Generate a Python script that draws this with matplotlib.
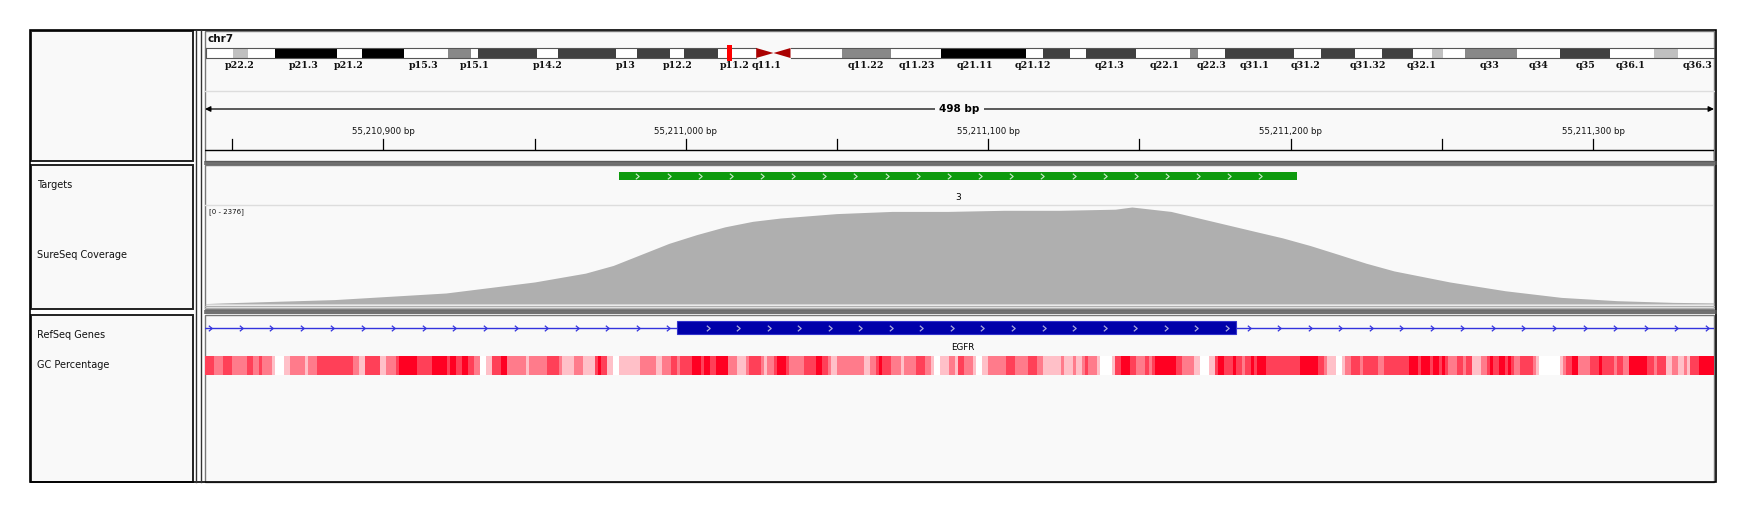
import numpy as np
import matplotlib
matplotlib.use("Agg")
import matplotlib.pyplot as plt
from matplotlib.path import Path

W, H = 1746, 516

# ---------------- data ----------------
bp_start, bp_end = 55210841, 55211340
ruler_ticks = [55210900, 55211000, 55211100, 55211200, 55211300]
ruler_minor = [55210850, 55210950, 55211050, 55211150, 55211250]
span_label = "498 bp"

target_start, target_end = 55210978, 55211202
target_label = "3"
exon_start, exon_end = 55210997, 55211182
gene_name = "EGFR"

cov_max = 2376
cov_offset = [0, 5.9, 42.8, 79.7, 109, 125.8, 135, 144.2, 153.4, 162.6, 171.9, 181.1, 190.3, 208.8,
              227.2, 245.7, 264.1, 282.5, 301, 306.5, 319.4, 328.6, 337.8, 347, 356.3, 365.5,
              374.8, 383.9, 393.2, 402.4, 411.6, 430, 448.5, 467, 485.4, 499]
cov_value = [10, 27, 108, 270, 540, 756, 945, 1215, 1485, 1700, 1890, 2025, 2106, 2214,
             2268, 2268, 2295, 2295, 2322, 2376, 2268, 2106, 1944, 1782, 1620, 1431,
             1215, 1000, 810, 675, 540, 324, 162, 81, 40, 27]

gc_levels = [3,2,3,2,3,2,3,2,1,0,1,2,1,2,3,2,1,3,1,2,3,4,3,4,3,4,3,4,3,2,0,1,3,4,2,1,2,3,2,1,2,1,3,4,3,1,0,1,2,1,2,3,2,3,4,3,4,3,
             4,2,1,2,3,2,1,2,3,4,3,2,3,4,3,2,1,2,1,2,3,4,3,2,1,2,3,2,1,0,1,2,1,3,2,1,0,1,2,3,2,3,2,1,2,1,2,1,2,3,2,1,0,1,3,4,3,2,3,2,3,4,3,2,1,0,1,3,4,3,
             3,4,3,2,3,4,3,4,3,4,3,2,1,0,1,2,3,2,3,2,3,4,3,4,3,4,3,4,3,2,3,2,3,1,2,3,4,3,4,3,4,3,2,3,2,1,0,1,2,3,4,2,3,4,3,2,3,2,4,3,2,3,1,2,1,2,1,3,4]
gc_lengths = [3,3,3,5,2,2,1,3,1,3,2,5,1,3,12,2,2,5,2,3,1,6,5,5,1,2,2,2,2,2,2,2,3,2,6,1,6,4,1,4,3,4,1,1,2,2,2,7,5,2,3,2,1,4,3,1,2,2,
              4,3,3,1,4,1,1,2,1,3,1,5,4,2,2,1,2,9,2,2,1,1,3,3,1,4,3,2,1,2,3,2,1,2,3,1,2,2,6,3,4,3,2,6,1,3,1,2,1,1,3,1,4,1,2,3,2,3,1,1,1,7,2,4,2,3,2,1,2,2,
              1,1,2,1,2,1,1,3,11,6,2,1,3,2,1,2,3,1,5,2,8,3,1,3,1,2,1,1,1,3,2,1,2,3,2,1,1,2,2,1,1,1,2,4,1,1,7,1,1,2,2,4,3,1,4,1,2,2,6,2,1,3,2,2,2,1,1,3,5]
gc_colors = ['#FFFFFF', '#FFC0C8', '#FF7B8B', '#FF4058', '#FF0022']

# cytobands: (edge px, shade)
band_edges = [205.7, 232.5, 248.1, 274.9, 337.4, 362, 403.5, 447.7, 471.3, 478, 537.4, 558.4,
              616.4, 636.5, 670, 684.3, 718.2, 756.2]
band_shades = ['w', 'lg', 'w', 'k', 'w', 'k', 'w', 'g', 'w', 'd', 'w', 'd', 'w', 'd', 'w', 'd', 'w']
qband_edges = [790.5, 841.9, 890.8, 940.5, 1025.9, 1042.7, 1070, 1085.8, 1136, 1190, 1197.6, 1225.3,
               1293.5, 1320.8, 1355.2, 1381.6, 1413.2, 1432.2, 1443.2, 1465.2, 1517.1, 1560, 1610,
               1654, 1678, 1714]
qband_shades = ['w', 'g', 'w', 'k', 'w', 'd', 'w', 'd', 'w', 'g', 'w', 'd', 'w', 'd', 'w', 'd', 'w',
                'lg', 'w', 'g', 'w', 'd', 'w', 'lg', 'w']
band_labels = ["p22.2", "p21.3", "p21.2", "p15.3", "p15.1", "p14.2", "p13", "p12.2", "p11.2", "q11.1",
               "q11.22", "q11.23", "q21.11", "q21.12", "q21.3", "q22.1", "q22.3", "q31.1", "q31.2",
               "q31.32", "q32.1", "q33", "q34", "q35", "q36.1", "q36.3"]
band_label_x = [215, 273, 313, 380, 426, 492, 562, 608, 660, 688, 777, 823, 875, 927, 996, 1045,
                1088, 1126, 1172, 1228, 1276, 1337, 1381, 1423, 1464, 1524]
shade_col = {'w': '#FFFFFF', 'lg': '#C0C0C0', 'g': '#888888', 'd': '#404040', 'k': '#000000'}

track_names = ["Targets", "SureSeq Coverage", "RefSeq Genes", "GC Percentage"]
track_name_y = [185, 255, 335, 365]

# ---------------- figure ----------------
fig = plt.figure(figsize=(W / 100, H / 100), dpi=100)
fig.patch.set_facecolor('white')
bg = fig.add_axes([0, 0, 1, 1])
bg.set_xlim(0, W); bg.set_ylim(H, 0); bg.axis('off')

def rect(ax, x0, y0, x1, y1, fc='none', ec='black', lw=1.0, z=1):
    ax.add_patch(plt.Rectangle((x0, y0), x1 - x0, y1 - y0, fc=fc, ec=ec, lw=lw, zorder=z))

PANEL = '#F9F9F9'
for (y0, y1) in [(31, 161), (165, 309), (315, 482)]:
    rect(bg, 31, y0, 193, y1, fc=PANEL, ec='#222222', lw=1.4)
    rect(bg, 205, y0, 1714, y1, fc=PANEL, ec='#777777', lw=1.0)
rect(bg, 30, 30, 1716, 482, fc='none', ec='black', lw=1.2, z=5)
for x in (196, 201):
    bg.plot([x, x], [30, 482], color='#333333', lw=1.0, zorder=6)
for y in (162, 164, 311, 313):
    bg.plot([205, 1716], [y, y], color='#555555', lw=1.2, zorder=6)

for name, y in zip(track_names, track_name_y):
    bg.text(37, y, name, fontsize=7, va='center', ha='left', color='#111111')

# ideogram
bg.text(208, 39, "chr7", fontsize=7.5, va='center', ha='left', fontweight='bold', color='#111111')
for i, s in enumerate(band_shades):
    rect(bg, band_edges[i], 48, band_edges[i + 1], 58, fc=shade_col[s], ec='none', z=2)
for i, s in enumerate(qband_shades):
    rect(bg, qband_edges[i], 48, qband_edges[i + 1], 58, fc=shade_col[s], ec='none', z=2)
for xa, xb in [(205.7, 756.2), (790.5, 1714)]:
    bg.plot([xa, xb], [48, 48], color='#555', lw=0.8, zorder=3)
    bg.plot([xa, xb], [58, 58], color='#555', lw=0.8, zorder=3)
bg.plot([205.7, 205.7], [48, 58], color='#555', lw=0.8, zorder=3)
bg.add_patch(plt.Polygon([[756.2, 48], [756.2, 58], [773.5, 53]], fc='#AA0000', ec='none', zorder=3))
bg.add_patch(plt.Polygon([[790.5, 48], [790.5, 58], [773.5, 53]], fc='#AA0000', ec='none', zorder=3))
rect(bg, 727, 45, 731.5, 61, fc='#FF0000', ec='none', z=4)
for lab, x in zip(band_labels, band_label_x):
    bg.text(x * 1.114, 65.5, lab, fontsize=6.8, family='DejaVu Serif', fontweight='bold',
            ha='center', va='center', color='#111111')
bg.plot([205, 1714], [91, 91], color='#DDDDDD', lw=1.0)

# ruler
ru = fig.add_axes([205 / W, 1 - 161 / H, 1509 / W, 130 / H])
ru.set_xlim(bp_start, bp_end); ru.set_ylim(161, 31); ru.axis('off')
ru.annotate('', xy=(bp_start, 109), xytext=(bp_end, 109),
            arrowprops=dict(arrowstyle='<|-|>', color='black', lw=0.9, mutation_scale=8,
                            shrinkA=0, shrinkB=0))
ru.text((bp_start + bp_end) / 2, 109, span_label, fontsize=7.5, fontweight='bold', ha='center',
        va='center', bbox=dict(fc=PANEL, ec='none', pad=3))
for t in ruler_ticks:
    ru.plot([t, t], [139, 149], color='black', lw=0.9)
    ru.text(t, 131, f"{t:,} bp", fontsize=6.2, ha='center', va='center', color='#111111')
for t in ruler_minor:
    ru.plot([t, t], [139, 149], color='black', lw=0.9)
ru.plot([bp_start, bp_end], [150, 150], color='black', lw=1.0)
ru.plot([bp_end, bp_end], [150, 159], color='black', lw=1.0)

# tracks
tr = fig.add_axes([205 / W, 1 - 482 / H, 1509 / W, 317 / H])
tr.set_xlim(bp_start, bp_end); tr.set_ylim(482, 165); tr.axis('off')
chev = Path([(-0.6, 1), (0.6, 0), (-0.6, -1)], [Path.MOVETO, Path.LINETO, Path.LINETO])

tr.add_patch(plt.Rectangle((target_start, 172), target_end - target_start, 8, fc='#0E9A0E', ec='none'))
cx = np.arange(target_start + 6, target_end - 3, 10.3)
tr.plot(cx, [176] * len(cx), ls='none', marker=chev, ms=4, mfc='none', mec='#CCEECC', mew=0.8)
tr.text((target_start + target_end) / 2, 197, target_label, fontsize=6.5, ha='center', va='center')
tr.plot([bp_start, bp_end], [205, 205], color='#DDDDDD', lw=1.0)

tr.plot([bp_start, bp_end], [327.5, 327.5], color='#3333DD', lw=1.0, zorder=2)
gx = np.arange(bp_start + 1.7, bp_end, 10.1)
gx = gx[(gx < exon_start) | (gx > exon_end)]
tr.plot(gx, [327.5] * len(gx), ls='none', marker=chev, ms=4, mfc='none', mec='#3333DD', mew=0.9)
tr.add_patch(plt.Rectangle((exon_start, 321), exon_end - exon_start, 13, fc='#0000AA',
                           ec='#3333CC', lw=0.8, zorder=3))
ex = np.arange(exon_start + 10.2, exon_end - 2, 10.1)
tr.plot(ex, [327.5] * len(ex), ls='none', marker=chev, ms=4, mfc='none', mec='#AAAADD', mew=0.9, zorder=4)
tr.text((exon_start + exon_end) / 2 + 2, 348, gene_name, fontsize=6.3, ha='center', va='center')

pos = bp_start
for lvl, ln in zip(gc_levels, gc_lengths):
    if pos >= bp_end:
        break
    w = min(ln, bp_end - pos)
    tr.add_patch(plt.Rectangle((pos, 356), w, 19, fc=gc_colors[lvl], ec='none'))
    pos += ln

# coverage
cv = fig.add_axes([205 / W, 1 - 304 / H, 1509 / W, 97 / H])
cv.set_xlim(bp_start, bp_end); cv.set_ylim(0, cov_max); cv.axis('off')
xs = bp_start + np.array(cov_offset)
cv.fill_between(xs, 0, cov_value, color='#AFAFAF', lw=0)
bg.text(209, 212, f"[0 - {cov_max}]", fontsize=5, ha='left', va='center', color='#111111')
bg.plot([205, 1714], [305.5, 305.5], color='#AFAFAF', lw=1.0)
bg.plot([205, 1714], [307.5, 307.5], color='#AFAFAF', lw=1.0)

fig.savefig("out.png", dpi=100, facecolor='white')
